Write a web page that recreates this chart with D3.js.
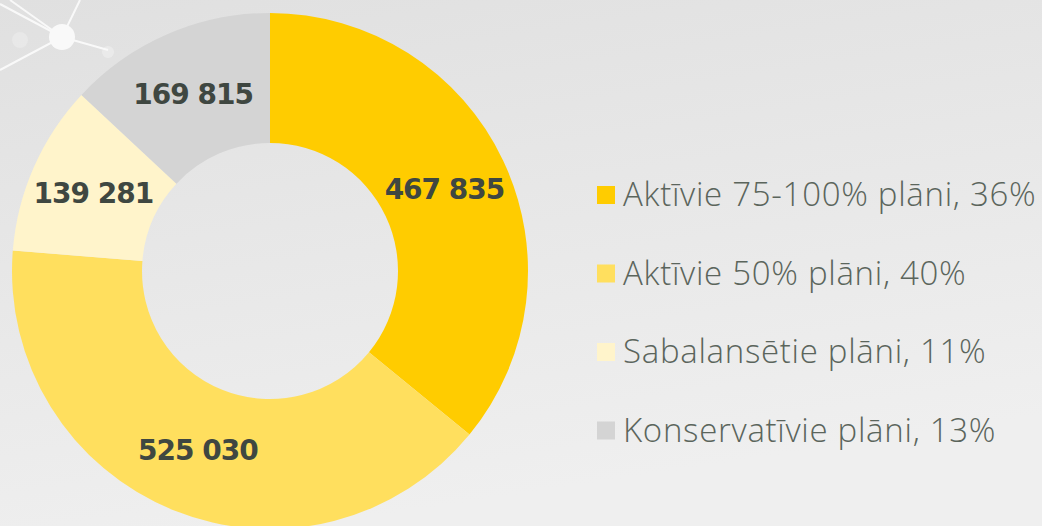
<!DOCTYPE html>
<html>
<head>
<meta charset="utf-8">
<script src="https://d3js.org/d3.v7.min.js"></script>
<style>
  html, body { margin: 0; padding: 0; }
  body { width: 1042px; height: 526px; overflow: hidden; }
</style>
</head>
<body>
<svg id="chart"></svg>
<script>
// data
var categories = ["Aktīvie 75-100% plāni", "Aktīvie 50% plāni", "Sabalansētie plāni", "Konservatīvie plāni"];
var values = [467835, 525030, 139281, 169815];
var percents = ["36%", "40%", "11%", "13%"];
var colors = ["#ffcc00", "#ffdf5e", "#fff4cb", "#d4d4d4"];

var width = 1042;
var height = 526;

var svg = d3.select("#chart")
    .attr("width", width)
    .attr("height", height);

// background
var defs = svg.append("defs");
var grad = defs.append("linearGradient")
    .attr("id", "bg")
    .attr("x1", 0).attr("y1", 0)
    .attr("x2", 0.3).attr("y2", 1);
grad.append("stop").attr("offset", 0).attr("stop-color", "#e0e0e0");
grad.append("stop").attr("offset", 1).attr("stop-color", "#efefef");

svg.append("rect")
    .attr("width", width)
    .attr("height", height)
    .attr("fill", "url(#bg)");

// little network decoration top left
var deco = svg.append("g").attr("opacity", 0.8);
var node = [62, 37];
[[0, 70], [0, 4], [10, 0], [80, 0], [108, 50]].forEach(function(p) {
    deco.append("line")
        .attr("x1", node[0]).attr("y1", node[1])
        .attr("x2", p[0]).attr("y2", p[1])
        .attr("stroke", "#ffffff")
        .attr("stroke-width", 2);
});
deco.append("circle").attr("cx", 108).attr("cy", 52).attr("r", 6).attr("fill", "#ffffff").attr("opacity", 0.4);
deco.append("circle").attr("cx", 20).attr("cy", 40).attr("r", 8).attr("fill", "#ffffff").attr("opacity", 0.3);
deco.append("circle").attr("cx", node[0]).attr("cy", node[1]).attr("r", 13).attr("fill", "#ffffff");

// donut
var cx = 270, cy = 271;
var outerR = 258, innerR = 128;

var pie = d3.pie().sort(null).value(function(d) { return d; });
var arc = d3.arc().innerRadius(innerR).outerRadius(outerR);

var g = svg.append("g").attr("transform", "translate(" + cx + "," + cy + ")");

var slices = g.selectAll("g.slice")
    .data(pie(values))
    .enter()
    .append("g")
    .attr("class", "slice");

slices.append("path")
    .attr("d", arc)
    .attr("fill", function(d, i) { return colors[i]; });

var fmt = function(v) { return d3.format(",")(v).replace(/,/g, " "); };

slices.append("text")
    .attr("transform", function(d) { return "translate(" + arc.centroid(d) + ")"; })
    .attr("text-anchor", "middle")
    .attr("dy", "0.36em")
    .attr("font-family", "'DejaVu Sans', sans-serif")
    .attr("font-weight", "bold")
    .attr("font-size", 28)
    .attr("letter-spacing", -1)
    .attr("fill", "#3f4741")
    .text(function(d) { return fmt(d.data); });

// legend
var legend = svg.append("g").attr("transform", "translate(597,195)");
var rowH = 78.5;

var rows = legend.selectAll("g.row")
    .data(categories)
    .enter()
    .append("g")
    .attr("class", "row")
    .attr("transform", function(d, i) { return "translate(0," + (i * rowH) + ")"; });

rows.append("rect")
    .attr("x", 0)
    .attr("y", -9)
    .attr("width", 18)
    .attr("height", 18)
    .attr("fill", function(d, i) { return colors[i]; });

rows.append("text")
    .attr("x", 26)
    .attr("y", 11)
    .attr("font-family", "'Open Sans', sans-serif")
    .attr("font-weight", 300)
    .attr("font-size", 33)
    .attr("letter-spacing", 0.7)
    .attr("fill", "#5b655c")
    .text(function(d, i) { return d + ", " + percents[i]; });
</script>
</body>
</html>
